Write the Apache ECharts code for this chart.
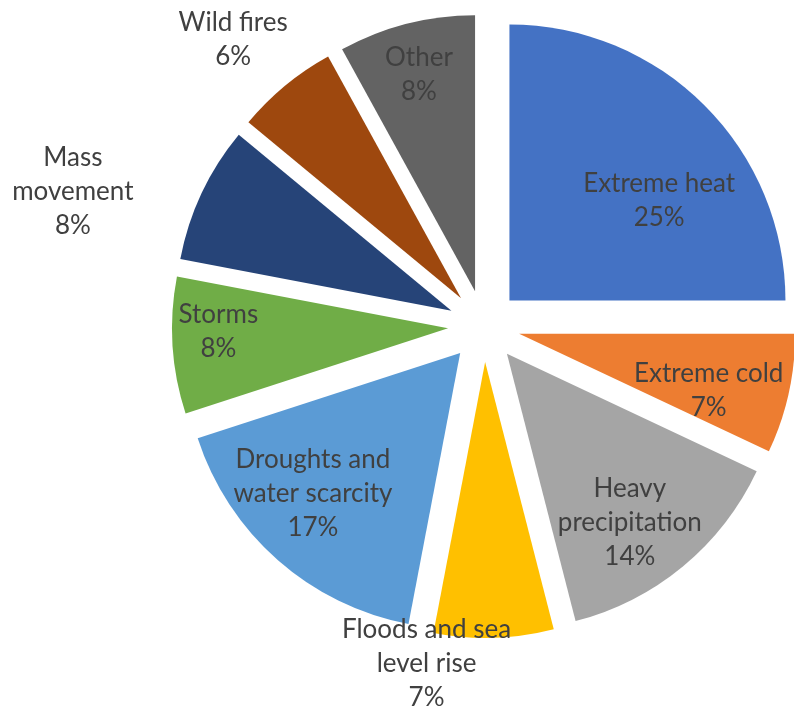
<!DOCTYPE html>
<html>
<head>
<meta charset="utf-8">
<script src="https://cdn.jsdelivr.net/npm/echarts@6/dist/echarts.min.js"></script>
<style>
  html, body { margin: 0; padding: 0; background: #ffffff; }
  #chart { width: 794px; height: 707px; }
</style>
</head>
<body>
<div id="chart"></div>
<script>
// Share of climate hazards, in percent
const categories = [
  'Extreme heat', 'Extreme cold', 'Heavy precipitation', 'Floods and sea level rise',
  'Droughts and water scarcity', 'Storms', 'Mass movement', 'Wild fires', 'Other'
];
const shares = [25, 7, 14, 7, 17, 8, 8, 6, 8];

// Label text as wrapped on the chart
const labelLines = [
  'Extreme heat', 'Extreme cold', 'Heavy\nprecipitation', 'Floods and sea\nlevel rise',
  'Droughts and\nwater scarcity', 'Storms', 'Mass\nmovement', 'Wild fires', 'Other'
];

const colors = ['#4472C4', '#ED7D31', '#A5A5A5', '#FFC000', '#5B9BD5', '#70AD47', '#264478', '#9E480E', '#636363'];

// Label nudges from the sector's mid-radius anchor
const labelOffsets = [
  [50, 0], [52, 26], [33, 60], [-63, 161], [-54, 35], [-89, -6], [-251, -59], [-138, -150], [-21, -80]
];

const data = categories.map((name, i) => ({
  name: name,
  value: shares[i],
  selected: true,
  itemStyle: { color: colors[i] },
  label: { formatter: labelLines[i] + '\n{d}%' }
}));

const chart = echarts.init(document.getElementById('chart'), null, { renderer: 'canvas' });
chart.setOption({
  animation: false,
  backgroundColor: '#ffffff',
  series: [{
    type: 'pie',
    center: [484, 326],
    radius: [0, 276],
    startAngle: 90,
    clockwise: true,
    selectedMode: 'multiple',
    selectedOffset: 36,
    avoidLabelOverlap: false,
    emphasis: { disabled: true },
    label: {
      show: true,
      position: 'inside',
      color: '#404040',
      fontFamily: 'Lato',
      fontSize: 26,
      lineHeight: 34,
      align: 'center'
    },
    labelLine: { show: false },
    labelLayout: function (params) {
      const off = labelOffsets[params.dataIndex];
      return { dx: off[0], dy: off[1] };
    },
    data: data
  }]
});
</script>
</body>
</html>
